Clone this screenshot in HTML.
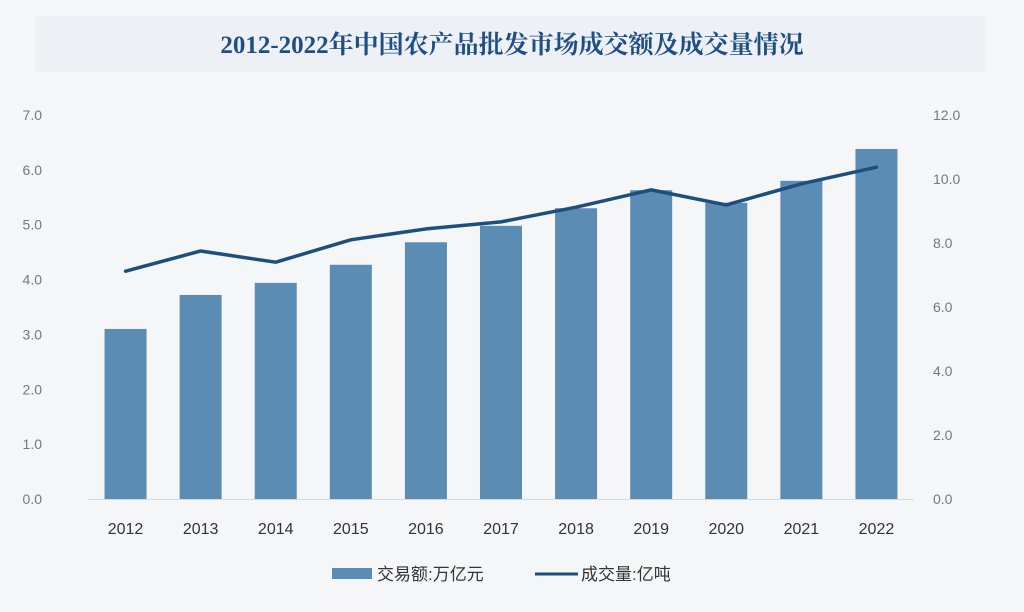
<!DOCTYPE html>
<html><head><meta charset="utf-8"><style>
html,body{margin:0;padding:0;background:#f5f6f8;}
svg{display:block;}
</style></head><body>
<svg id="chart" width="1024" height="612" xmlns="http://www.w3.org/2000/svg" font-family="'Liberation Sans','Noto Sans CJK SC',sans-serif">
<rect x="0" y="0" width="1024" height="612" fill="#f5f6f8"/>
<rect x="35" y="16" width="950" height="56" fill="#edf1f6"/>
<text x="512" y="53" text-anchor="middle" font-size="25" font-weight="bold" fill="#1f4e86" font-family="'Liberation Serif','Noto Serif CJK SC',serif">2012-2022年中国农产品批发市场成交额及成交量情况</text>
<line x1="88" y1="499.5" x2="914" y2="499.5" stroke="#d9d9d9" stroke-width="1"/>
<g id="leftTicks"></g>
<g id="rightTicks"></g>
<g id="bars"></g>
<g id="xlabels"></g>
<polyline id="line" fill="none" stroke="#1d4f7e" stroke-width="3.5" stroke-linejoin="round" stroke-linecap="round"/>
<g>
<g>
<rect x="332" y="568" width="40" height="11" fill="#5b8cb4"/>
<text x="377" y="580" font-size="17" fill="#333">交易额:万亿元</text>
</g>
<g>
<line x1="535" y1="574" x2="578" y2="574" stroke="#1d4f7e" stroke-width="3"/>
<text x="581" y="580" font-size="17" fill="#333">成交量:亿吨</text>
</g>
</g>
</svg>
<script>
const categories = ["2012","2013","2014","2015","2016","2017","2018","2019","2020","2021","2022"];
const amountValues = [3.10,3.72,3.94,4.27,4.68,4.98,5.30,5.63,5.40,5.80,6.38];
const volumeValues = [7.12,7.75,7.40,8.10,8.44,8.66,9.12,9.66,9.19,9.85,10.37];
const leftTicks = ["0.0","1.0","2.0","3.0","4.0","5.0","6.0","7.0"];
const rightTicks = ["0.0","2.0","4.0","6.0","8.0","10.0","12.0"];

const NS = "http://www.w3.org/2000/svg";
const plotL = 88, plotR = 914, y0 = 499, yTop = 115;
const band = (plotR - plotL) / categories.length;
function xScale(i){ return plotL + band * (i + 0.5); }
function yLeft(v){ return y0 - (y0 - yTop) * v / 7; }
function yRight(v){ return y0 - (y0 - yTop) * v / 12; }
function mk(tag, attrs, parent){ const e = document.createElementNS(NS, tag); for (const k in attrs) e.setAttribute(k, attrs[k]); parent.appendChild(e); return e; }

const lt = document.getElementById('leftTicks');
leftTicks.forEach(t => {
  const e = mk('text', {x: 42, y: yLeft(parseFloat(t)) + 5, 'text-anchor': 'end', 'font-size': 14, fill: '#777'}, lt);
  
  
  e.textContent = t;
});
const rt = document.getElementById('rightTicks');
rightTicks.forEach(t => {
  const e = mk('text', {x: 933, y: yRight(parseFloat(t)) + 5, 'text-anchor': 'start', 'font-size': 14, fill: '#777'}, rt);
  
  
  e.textContent = t;
});
const bars = document.getElementById('bars');
const xl = document.getElementById('xlabels');
const bw = 42;
categories.forEach((c, i) => {
  const y = yLeft(amountValues[i]);
  const r = mk('rect', {x: xScale(i) - bw/2, y: y, width: bw, height: y0 - y, fill: '#5b8cb4'}, bars);
  
  
  const t = mk('text', {x: xScale(i), y: 534, 'text-anchor': 'middle', 'font-size': 16, fill: '#333'}, xl);
  
  
  t.textContent = c;
});
document.getElementById('line').setAttribute('points', volumeValues.map((v, i) => xScale(i) + ',' + yRight(v)).join(' '));
</script>
</body></html>
